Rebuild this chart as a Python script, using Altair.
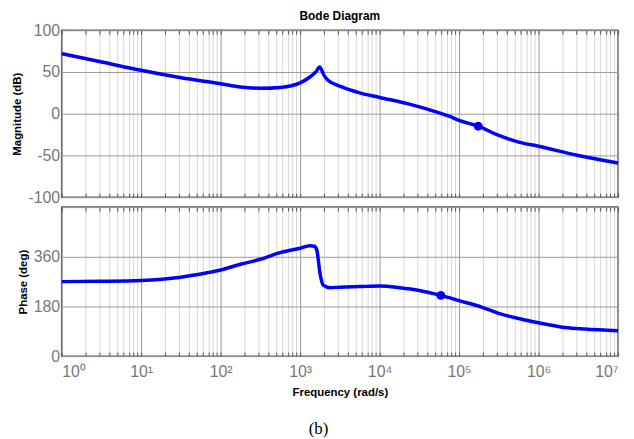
import altair as alt
import pandas as pd

# ---- data ----
mag_freq = [1, 3.2, 10, 32, 100, 178, 316, 562, 1000, 1330, 1580, 1760, 2000, 2240,
            3160, 5620, 10000, 23700, 56200, 75000, 100000, 174000, 316000, 562000,
            1e6, 3.16e6, 1e7]
mag_db = [72, 62, 52, 43, 36, 32, 30.5, 31.5, 37, 44, 50, 56, 46, 40,
          33, 25, 19.5, 11.5, 1, -3, -8, -15, -26, -34,
          -39, -50, -59]

phase_freq = [1, 3.16, 10, 31.6, 67.6, 100, 178, 316, 562, 1000, 1330, 1510, 1620,
              1780, 1950, 2370, 3160, 5620, 10000, 17800, 31600, 58900, 100000,
              195000, 316000, 676000, 1e6, 2.14e6, 3.8e6, 1e7]
phase_deg = [270, 271, 274, 286, 302, 312, 333, 351, 375, 391, 400, 398, 385,
             300, 257, 248, 250, 252, 254, 248, 238, 220, 201,
             177, 155, 131, 121, 104, 98, 92]

mag_marker_freq = [174000]
mag_marker_db = [-15]
phase_marker_freq = [58900]
phase_marker_deg = [220]

decades = [1, 10, 100, 1000, 1e4, 1e5, 1e6, 1e7]
grid_ticks = [m * d for d in decades[:-1] for m in range(1, 10)] + [1e7]
mag_ticks = [-100, -50, 0, 50, 100]
phase_ticks = [0, 180, 360, 540]

mag_df = pd.DataFrame({"f": mag_freq, "v": mag_db})
ph_df = pd.DataFrame({"f": phase_freq, "v": phase_deg})
mag_mk = pd.DataFrame({"f": mag_marker_freq, "v": mag_marker_db})
ph_mk = pd.DataFrame({"f": phase_marker_freq, "v": phase_marker_deg})

BLUE = "#0000ff"
LABEL_FONT = "Liberation Sans"
TICK = "#555555"
is_major = "abs(log(datum.value)/LN10 - round(log(datum.value)/LN10)) < 0.001"
grid_color = {"condition": {"test": is_major, "value": "#9a9a9a"}, "value": "#d6d6d6"}
sup = "['\u2070','\u00b9','\u00b2','\u00b3','\u2074','\u2075','\u2076','\u2077']"

xscale = alt.Scale(type="log", domain=[1, 1e7], nice=False)


def x_axis(show_labels):
    kw = dict(values=grid_ticks, gridColor=grid_color, gridWidth=1, ticks=True,
              tickSize=4, tickColor=TICK, tickWidth=1, offset=-4,
              domain=False, labelOverlap=False, labelBound=False)
    if show_labels:
        kw.update(labelExpr="(" + is_major + ") ? '10' + " + sup +
                  "[round(log(datum.value)/LN10)] : ''",
                  labelFont=LABEL_FONT, labelFontSize=16, labelColor="#777777",
                  labelPadding=7, title="Frequency  (rad/s)", titleFont="Liberation Sans",
                  titleFontSize=11.5, titleFontWeight="bold", titleColor="#000000",
                  titlePadding=8)
    else:
        kw.update(labels=False, title=None)
    return alt.Axis(**kw)


top_tick_axis = alt.Axis(values=grid_ticks, orient="top", offset=-4, ticks=True, tickSize=4,
                         tickColor=TICK, tickWidth=1, grid=False, labels=False,
                         domain=False, title=None)


def y_axis(vals, title, expr):
    return alt.Axis(values=vals, gridColor="#9a9a9a", gridWidth=1, ticks=False, domain=False,
                    labelFont=LABEL_FONT, labelFontSize=16, labelColor="#777777",
                    labelPadding=2, title=title, titleFont="Liberation Sans",
                    titleFontSize=11.5, titleFontWeight="bold", titleColor="#000000",
                    titlePadding=5, labelOverlap=False, labelExpr=expr)


def panel(line_df, mk_df, ydomain, yaxis, show_x_labels):
    line = alt.Chart(line_df).mark_line(color=BLUE, strokeWidth=3.5, interpolate="monotone").encode(
        x=alt.X("f:Q", scale=xscale, axis=x_axis(show_x_labels)),
        y=alt.Y("v:Q", scale=alt.Scale(domain=ydomain, nice=False), axis=yaxis),
    )
    pt = alt.Chart(mk_df).mark_point(filled=True, color=BLUE, size=80, opacity=1,
                                     shape="circle").encode(
        x=alt.X("f:Q", scale=xscale, axis=top_tick_axis),
        y=alt.Y("v:Q"),
    )
    return alt.layer(line, pt).resolve_axis(x="independent")


top = panel(mag_df, mag_mk, [-100, 100],
            y_axis(mag_ticks, "Magnitude (dB)", "'' + datum.value"), False).properties(
    width=560, height=168,
    title=alt.TitleParams("Bode Diagram", font="Liberation Sans", fontSize=12,
                          fontWeight="bold", color="#000000", anchor="middle",
                          frame="group", offset=-1))

bottom = panel(ph_df, ph_mk, [0, 540],
               y_axis(phase_ticks, "Phase (deg)", "datum.value == 540 ? '' : '' + datum.value"),
               True).properties(width=560, height=150)

chart = alt.vconcat(top, bottom, spacing=10, bounds="flush").properties(
    title=alt.TitleParams("(b)", orient="bottom", font="Liberation Serif", fontSize=17,
                          fontWeight="normal", color="#000000", anchor="middle", offset=22),
    padding={"left": 3, "top": 0, "right": 0, "bottom": 0},
).configure_view(stroke="#555555", strokeWidth=1.5).configure_title(anchor="middle")

chart.save("out.html", embed_options={"renderer": "svg", "actions": False})
